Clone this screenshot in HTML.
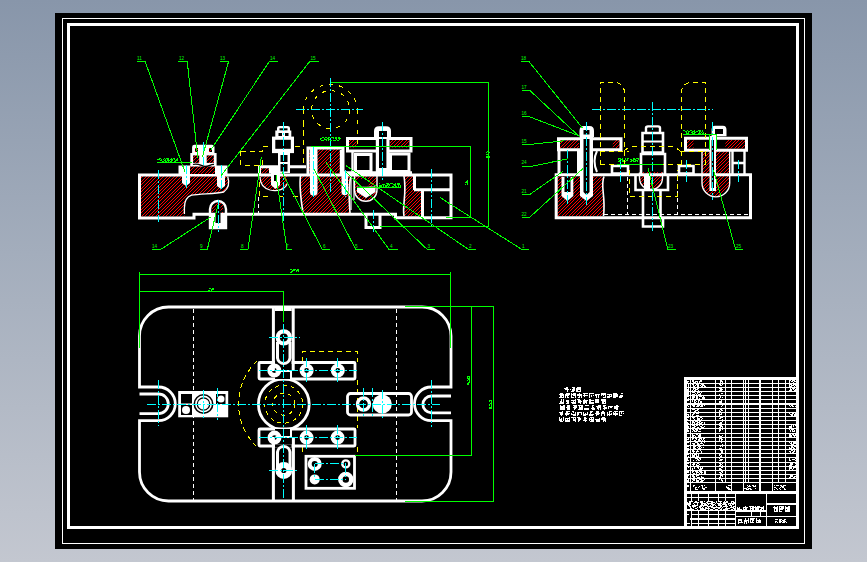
<!DOCTYPE html>
<html><head><meta charset="utf-8">
<style>
html,body{margin:0;padding:0;width:867px;height:562px;overflow:hidden;}
body{background:linear-gradient(to bottom,#8896aa 0%,#a3adbc 45%,#c3c7d0 100%);font-family:"Liberation Sans",sans-serif;}
svg{position:absolute;left:0;top:0;}
svg text{font-family:"Liberation Sans",sans-serif;}
</style></head><body>
<svg width="867" height="562" viewBox="0 0 867 562">
<g shape-rendering="crispEdges">
<rect x="55" y="13" width="757" height="536" fill="#000"/>
<rect x="62.5" y="18.5" width="742" height="525" fill="none" stroke="#fff" stroke-width="1"/>
<rect x="68.5" y="24.5" width="729" height="503" fill="none" stroke="#fff" stroke-width="3"/>
</g>

<!-- PLAN VIEW -->
<g id="plan" fill="none" stroke="#fff" stroke-width="2.8">
<path d="M168.5,307 H422 A29,29 0 0 1 451,336 V387 H431.3 A16.8,16.8 0 0 0 431.3,420.6 H451 V472 A29,29 0 0 1 422,501 H168.5 A29,29 0 0 1 139.5,472 V420.6 H158.5 A16.8,16.8 0 0 0 158.5,387 H139.5 V336 A29,29 0 0 1 168.5,307 Z"/>
<path d="M139.5,394 H158.5 A9.8,9.8 0 0 1 158.5,413.6 H139.5"/>
<path d="M451,396 H431.3 A8.4,8.4 0 0 0 431.3,412.8 H451"/>
</g>
<g shape-rendering="crispEdges" stroke="#fff" stroke-width="1" stroke-dasharray="4,3" fill="none">
<line x1="193.8" y1="309" x2="193.8" y2="500"/>
<line x1="396.6" y1="309" x2="396.6" y2="500"/>
</g>
<!-- yellow dashed -->
<g shape-rendering="crispEdges" stroke="#ffff00" stroke-width="1" stroke-dasharray="5,4" fill="none">
<path d="M302.3,362 V351.7 H357.4 V362"/>
<path d="M357.4,380 V428"/>
<path d="M302.3,447 V456 M357.4,447 V456"/>
<path d="M257,361 A59.5,59.5 0 0 0 257,447"/>
</g>
<!-- center circle -->
<g fill="none" stroke="#fff" stroke-width="2.8">
<circle cx="283.8" cy="404.2" r="25.4"/>
<rect x="259" y="362.5" width="96" height="16.5" rx="1"/>
<rect x="259" y="429" width="96" height="17" rx="1"/>
<rect x="347.5" y="393.5" width="64" height="21.5" rx="3"/>
<rect x="306" y="456.3" width="48.5" height="32"/>
</g>
<g shape-rendering="crispEdges" stroke="#ffff00" stroke-width="1" stroke-dasharray="4,4" fill="none">
<circle cx="283.8" cy="404.2" r="19"/>
<circle cx="283.8" cy="404.2" r="11"/>
</g>
<!-- vertical bars -->
<g fill="#000" stroke="#fff" stroke-width="3">
<path d="M275,377.5 H291.6 M275,430.5 H291.6 M275,362.5 H291.6 M275,446 H291.6" stroke="#000" stroke-width="3.2"/>
<path d="M273.4,308 V371 M293.2,308 V371 M275,309.5 H291.5"/>
<path d="M273.4,437 V501 M293.4,437 V501"/>
<path d="M277.5,342 V358 A6.3,6.3 0 0 0 290,358 V342" />
<path d="M277.5,470 V452 A6.3,6.3 0 0 1 290,452 V470" />
<path d="M275.5,371 H291 V379" stroke-width="2"/>
<path d="M275.5,437 H291 V429" stroke-width="2"/>
</g>
<!-- rings -->
<g fill="none" stroke="#fff" stroke-width="4.6">
<circle cx="283.8" cy="337.4" r="6.1" stroke-width="4.2"/>
<circle cx="283.8" cy="470.5" r="5.5" stroke-width="5.8"/>
<circle cx="306.6" cy="370.5" r="4.7"/>
<circle cx="337.8" cy="370.5" r="4.7"/>
<circle cx="274.3" cy="370.5" r="4.7"/>
<circle cx="306.6" cy="437.6" r="4.7"/>
<circle cx="337.6" cy="437.6" r="4.7"/>
<circle cx="274.5" cy="437.6" r="4.7"/>
<circle cx="363.5" cy="404" r="6" stroke-width="3.4"/>
<circle cx="314.7" cy="463.9" r="5" stroke-width="4"/>
<circle cx="345.8" cy="479.4" r="5.5" stroke-width="4.5"/>
<circle cx="345.8" cy="463.9" r="3.5" stroke-width="2.4"/>
</g>
<g fill="#fff">
<circle cx="382.2" cy="404" r="9.6"/>
<circle cx="314.7" cy="479.4" r="5"/>
</g>
<!-- left block -->
<rect x="178.2" y="391" width="50" height="26.3" fill="#fff"/>
<g fill="#000">
<circle cx="203.5" cy="404" r="10"/>
<rect x="181" y="394" width="11" height="9.5"/>
<rect x="181" y="405" width="11" height="10"/>
<rect x="216" y="394" width="9.5" height="10"/>
</g>
<circle cx="203.5" cy="404" r="7.6" fill="none" stroke="#fff" stroke-width="1.6"/>
<circle cx="203.5" cy="404" r="5.6" fill="#fff"/>
<circle cx="186" cy="410" r="4" fill="#fff"/>
<circle cx="221" cy="399" r="3.5" fill="#fff"/>
<!-- cyan center lines -->
<g shape-rendering="crispEdges" stroke="#00ffff" stroke-width="1" fill="none" stroke-dasharray="9,2,2,2">
<line x1="147" y1="404" x2="440" y2="404"/>
<line x1="158.5" y1="380" x2="158.5" y2="426"/>
<line x1="431.3" y1="380" x2="431.3" y2="427"/>
<line x1="283.8" y1="309" x2="283.8" y2="500"/>
<line x1="259" y1="370.5" x2="357" y2="370.5"/>
<line x1="259" y1="437.6" x2="357" y2="437.6"/>
<line x1="269" y1="337.4" x2="300" y2="337.4"/>
<line x1="269" y1="470.5" x2="299" y2="470.5"/>
<line x1="306.6" y1="358" x2="306.6" y2="383"/>
<line x1="337.8" y1="358" x2="337.8" y2="383"/>
<line x1="337.6" y1="425" x2="337.6" y2="450"/>
<line x1="306.6" y1="425" x2="306.6" y2="450"/>
<line x1="217.5" y1="388" x2="217.5" y2="420"/>
<line x1="203.5" y1="390" x2="203.5" y2="418"/>
<line x1="363.5" y1="388" x2="363.5" y2="417"/>
<line x1="372.5" y1="388" x2="372.5" y2="417"/>
<line x1="382.3" y1="390" x2="382.3" y2="418"/>
<line x1="314.7" y1="463.9" x2="345.8" y2="463.9"/>
<line x1="314.7" y1="479.4" x2="345.8" y2="479.4"/>
<line x1="314.7" y1="463.9" x2="314.7" y2="479.4"/>
<line x1="345.8" y1="463.9" x2="345.8" y2="479.4"/>
</g>
<!-- green dims -->
<g shape-rendering="crispEdges" stroke="#00ff00" stroke-width="1" fill="none">
<path d="M139.5,348 V272 M139.5,274.2 H450.5 M450.5,272 V348"/>
<path d="M139.5,291.7 H283 V322"/>
<path d="M405,306.4 H493.5 V501.4 H405"/>
<path d="M354.5,455.6 H471.2 V306.4"/>
</g>

<defs>
<pattern id="hatch" patternUnits="userSpaceOnUse" x="0" y="0" width="7" height="7">
<rect width="7" height="7" fill="#000"/>
<path fill="#ff0000" shape-rendering="crispEdges" d="M0,0h1v1h-1zM3,0h1v1h-1zM2,1h1v1h-1zM6,1h1v1h-1zM1,2h1v1h-1zM5,2h1v1h-1zM0,3h1v1h-1zM4,3h1v1h-1zM3,4h1v1h-1zM6,4h1v1h-1zM2,5h1v1h-1zM5,5h1v1h-1zM1,6h1v1h-1zM4,6h1v1h-1z"/>
</pattern>
</defs>
<!-- FRONT VIEW hatched regions -->
<g fill="url(#hatch)" stroke="none">
<path d="M140,176 H227.7 C229.5,182 229,188 223.7,192 C215,194 200,193.6 191.6,195.2 C186,197 184.4,203 184.4,208 V216.5 H140 Z"/>
<path d="M260,176 H287 V184 C284,190 276,192 268,189 C262,186 260,181 260,178 Z"/>
<rect x="261" y="167" width="8" height="6.5"/>
<path d="M300.5,176 H351 C348,186 349,200 350,213 H303 C301,200 299,186 300.5,176 Z"/>
<rect x="309" y="149" width="32" height="24.5"/>
<path d="M354.5,176 H377 V190 A11.2,11.2 0 0 1 354.5,190 Z"/>
<path d="M404,176 H413 V190 H421 V216 H404 C402,205 407,195 404,176 Z"/>
<rect x="349" y="140" width="7.5" height="7.5"/>
<rect x="390" y="140" width="19" height="7.5"/>



<rect x="212" y="203" width="11" height="10"/>
</g>
<g fill="none" stroke="#fff" stroke-width="3">
<!-- main body outline -->
<path d="M139.5,175 H451 V217.7 H395.5 V214.3 H194 V218 H139.5 Z"/>
<!-- right block -->
<path d="M414.5,175 V190 M414,189.8 H451 M422.5,189.8 V217.7"/>
<!-- small boss on top-left -->

<!-- upper clamp 12/13 -->

<!-- nut screw item 16 (see solids) -->
<path d="M259.5,175 V166.8 H306"/>
<!-- tall block -->
<path d="M308,175 V148 H343 V175"/>
<!-- top clamp plate -->
<path d="M347.5,151 V138.5 H411 V151 Z"/>
<path d="M355.5,154.5 H371 V171.5 H355.5 Z"/>
<path d="M390.5,154 H409 V171.5 H390.5 Z"/>
<path d="M341,150 V175 M352.5,150 V175" stroke-width="2.4"/>
<path d="M340,172.8 H412"/>
<!-- small rect below body -->
<path d="M366,214.5 V227.5 H380 V214.5"/>
</g>
<g fill="none" stroke="#fff" stroke-width="2.4">
<!-- break lines -->
<path d="M227.7,176.5 C229.5,182 229,188 223.7,192 C215,194 200,193.6 191.6,195.2 C186,197 184.4,203 184.4,208 V214" stroke-width="1.3"/>
<path d="M260,177 C260,183 263,188 270,190 C278,192 285,189 287,184" stroke-width="1.2"/>
<path d="M300.5,176 C299,186 301,200 303,213" stroke-width="1.6"/>
<path d="M351,176 C348,186 349,200 350,213" stroke-width="1.6"/>
<path d="M404,176 C407,195 402,205 404,216" stroke-width="1.6"/>
<path d="M354.5,176 V190 A11.2,11.2 0 0 0 377,190 V176" stroke-width="1.4"/>
<path d="M186,200 V208 M195,200 V208" stroke-width="0"/>
<!-- bottom pin -->
<path d="M210,228 V209 A8,8 0 0 1 226,209 V228 Z" stroke-width="2.4"/>
</g>
<!-- white solid items: screws, dowels -->
<g fill="#fff">
<path d="M182,169 H190 V183 L186,186 L182,183 Z"/>
<path d="M217,169 H225 V186 L221,189 L217,186 Z"/>
<path d="M310,148 H317.5 V192 A3.75,3.75 0 0 1 310,192 Z"/>
<path d="M341.5,176 H348 V192 A3.25,3.25 0 0 1 341.5,192 Z"/>

<path d="M271,173 H280 V185 L275.5,189 L271,185 Z"/>
<rect x="274" y="175" width="3" height="6" fill="#000"/>
<rect x="269" y="167" width="16" height="6.5"/>
<rect x="211" y="213" width="14" height="14"/>
<rect x="215.5" y="206" width="5" height="17" fill="#000"/>
<path d="M374,138 V131 Q374,126.3 379,126.3 H386 Q391,126.3 391,131 V138 Z"/>
<rect x="379" y="131" width="8" height="6" fill="#000"/>
<rect x="375.8" y="137" width="13.7" height="36"/>
<rect x="379" y="139" width="7.4" height="29" fill="#000"/>
<path d="M277,131 V128 Q277,126 279.5,126 H287.5 Q290,126 290,128 V131 Z"/>
<rect x="275.3" y="130.5" width="16" height="6.5"/>
<rect x="272" y="136.6" width="22" height="16.5"/>
<rect x="278" y="153" width="12" height="20"/>
<g fill="#000"><rect x="279.5" y="128.3" width="8" height="2"/><rect x="278.5" y="133" width="3.5" height="3"/><rect x="285" y="133" width="3.5" height="3"/>
<rect x="275.3" y="139.8" width="15.5" height="9"/><rect x="280.5" y="155" width="7" height="7"/><rect x="280.5" y="164" width="7" height="7.5"/></g>
</g>
<path d="M357,186.5 H375.5 V192 L366,198 L357,192 Z" fill="#fff"/>
<rect x="357.7" y="179" width="11" height="7.5" fill="#000"/>
<path d="M351,178 V210 M354,178 V200" stroke="#fff" stroke-width="1.2" fill="none"/>
<!-- boss + clamp 12/13 -->
<g fill="#fff">
<rect x="178.5" y="165.5" width="49" height="10"/>
<path d="M190.3,166 V153 H192.1 V147 Q192.1,144.8 194.5,144.8 H212 Q214.5,144.8 214.5,147 V153 H216.6 V166 Z"/>
</g>
<g fill="url(#hatch)">
<rect x="190" y="166.5" width="25" height="7.5"/>
<rect x="193.1" y="155.4" width="6.1" height="7.5"/>
<rect x="206.7" y="155.4" width="7.1" height="7.5"/>
<rect x="195" y="148" width="3" height="4"/>
<rect x="209" y="148" width="3" height="4"/>
</g>
<path d="M193,164.5 C198,162.5 202,166.5 205,166.5 C209,166.5 211,164 214,164.5" stroke="#000" stroke-width="1.3" fill="none"/>
<rect x="182" y="169" width="8" height="7" fill="#fff"/>

<!-- front view: details -->

<!-- yellow dashed (front) -->
<g shape-rendering="crispEdges" stroke="#ffff00" stroke-width="1" stroke-dasharray="5,4" fill="none">
<path d="M240.5,151 V165 H262 V158"/>
<path d="M240.5,151 H262 V146 H271.5 M294.5,146 H303.7"/>
<path d="M303.7,122 V165"/>
<path d="M259.5,182 V196.5 H269 M279,196.5 H283 M293,196.5 H301"/>
<path d="M258.5,197 V213" stroke="#fff" stroke-dasharray="4,3"/>
<path d="M303,110 V145 M357.5,110 V145 M303,110 A27.3,27.3 0 0 1 357.5,110" stroke-dasharray="4,6"/>
<circle cx="330.6" cy="109.6" r="19" stroke-dasharray="4,6"/>
</g>
<!-- cyan center lines (front) -->
<g shape-rendering="crispEdges" stroke="#00ffff" stroke-width="1" fill="none" stroke-dasharray="9,2,2,2">
<line x1="158.5" y1="170" x2="158.5" y2="222"/>
<line x1="186" y1="165" x2="186" y2="188"/>
<line x1="221" y1="165" x2="221" y2="190"/>
<line x1="203.5" y1="142" x2="203.5" y2="165"/>
<line x1="218" y1="200" x2="218" y2="232"/>
<line x1="283" y1="122" x2="283" y2="222"/>
<line x1="313.8" y1="146" x2="313.8" y2="197"/>
<line x1="330.6" y1="77.8" x2="330.6" y2="192"/>
<line x1="296" y1="109.6" x2="363" y2="109.6"/>
<line x1="345" y1="170" x2="345" y2="197"/>
<line x1="382.5" y1="122" x2="382.5" y2="182"/>
<line x1="373" y1="210" x2="373" y2="232"/>
<line x1="431.5" y1="169" x2="431.5" y2="228"/>
</g>
<!-- green leaders & dims (front) -->
<g shape-rendering="crispEdges" stroke="#00ff00" stroke-width="1" fill="none">
<path d="M136.9,61.1 H145 L185,172"/>
<path d="M178.4,61.1 H187.2 L197.8,158"/>
<path d="M219.5,61.1 H228.7 L202.4,157"/>
<path d="M277.6,61.1 H269.6 L210.8,150"/>
<path d="M319.2,61.1 H310 L220.8,176"/>
<path d="M151.5,249.1 H161.2 L211.5,216.6"/>
<path d="M199.5,249.1 H207.4 L218,205"/>
<path d="M240.3,249.1 H248 L261.4,156.7"/>
<path d="M292.2,249.1 H286.9 L276,175"/>
<path d="M329.6,249.1 H322.2 L282,172.4"/>
<path d="M362.7,249.1 H355.5 L314.3,169.4"/>
<path d="M397.8,249.1 H388.8 L326,162.5"/>
<path d="M434.6,249.1 H426.9 L346,172"/>
<path d="M475.8,249.1 H468 L345.7,165.5"/>
<path d="M529,249.1 H521.3 L443.8,200 L440,197"/>
<path d="M157,162 H192"/>
<path d="M311,146.7 H470 V217.5 H446"/>
<path d="M331,82.5 H488.5 V226 H380"/>
<path d="M357,187.6 H401"/>
</g>
<g fill="#00ff00" font-family="Liberation Sans" font-size="4.6">
<text x="137" y="60">11</text><text x="179" y="60">12</text><text x="220" y="60">13</text><text x="270" y="60">14</text><text x="310.5" y="60">15</text>
<text x="152" y="248">14</text><text x="200" y="248">9</text><text x="241" y="248">8</text><text x="286" y="248">7</text><text x="323" y="248">6</text>
<text x="355" y="248">5</text><text x="390" y="248">4</text><text x="427.5" y="248">3</text><text x="469" y="248">2</text><text x="522" y="248">1</text>
</g>

<!-- SIDE VIEW -->
<g fill="url(#hatch)">
<path d="M557.5,176.5 H604 C600,186 606,196 603.5,216 H557.5 Z"/>
<rect x="559.6" y="140" width="19.4" height="8"/>
<rect x="612.8" y="140" width="7.1" height="8"/>
<rect x="686" y="140" width="7.5" height="8.5"/>
<rect x="725.4" y="140" width="20.3" height="8.5"/>
<path d="M702,150 H729.7 V183 A13.85,13.85 0 0 1 702,183 Z"/>
<path d="M639.5,172 H662.5 V178 A11.5,11.5 0 0 1 639.5,178 Z"/>
</g>
<g fill="none" stroke="#fff" stroke-width="3">
<path d="M556.2,174.7 H750.5 V217.7 H556.2 Z"/>
<path d="M558.5,138.8 H621 V149.8 H558.5 Z"/>
<path d="M685.5,138.3 H746.5 V150.3 H685.5 Z"/>
<path d="M559,151 V175 M578.5,151 V175" stroke-width="3"/>
<path d="M612,166 H628 V173.6 H612 Z" stroke-width="2.6"/>
<path d="M679,166 H693.5 V173.6 H679 Z" stroke-width="2.6"/>
<path d="M732.5,151 V175 M744.5,151 V175 M732.5,163 H744.5" stroke-width="2.4"/>
<!-- center column -->
<path d="M646,132 V128 Q646,126.4 648,126.4 H658 Q660,126.4 660,128 V132" stroke-width="2.4"/>
<path d="M642.5,152.5 V133 H663 V152.5 Z" stroke-width="2.6"/>
<path d="M642.5,141.5 H663" stroke-width="2"/>
<path d="M641,174.5 V154 H665 V174.5" stroke-width="2.6"/>
<path d="M635.5,174.5 V190 H668 V174.5" stroke-width="2.6"/>
<path d="M643,190 V217 M660.5,190 V217" stroke-width="2.6"/>
<path d="M643,217 V226.5 H663 V217" stroke-width="2.6"/>
<path d="M639.5,172.5 V178 A11.5,11.5 0 0 0 662.5,178 V172.5" stroke-width="1.4"/>
<path d="M702,150 V183 A13.85,13.85 0 0 0 729.7,183 V150" stroke-width="1.4"/>
<path d="M604,176.5 C600,186 606,196 603.5,216" stroke-width="1.6"/>
<path d="M597,151 Q592,161 597,172" stroke-width="2"/>
</g>
<g fill="#fff">
<path d="M561.5,177 H573.3 V196 L567.4,201 L561.5,196 Z"/>
<path d="M580,128 H593 V196 L586.5,201 L580,196 Z"/>
<path d="M579.5,137 V131 Q579.5,126 584,126 H589.5 Q594,126 594,131 V137 Z"/>
<rect x="709.5" y="136" width="6.5" height="55"/>
<path d="M711.6,136.3 V130 Q711.6,125.7 715,125.7 H723 Q726.5,125.7 726.5,130 V136.3 Z"/>
<rect x="644" y="174" width="6" height="16"/>
</g>
<g fill="#000">
<rect x="583.5" y="130" width="6" height="4.5"/>
<rect x="583.5" y="139" width="6" height="26"/>
<rect x="562.5" y="153" width="12" height="20"/>
<rect x="564.5" y="177" width="6" height="15"/>
<path d="M583.5,165 V192 L586.5,195 L589.5,192 V165 Z"/>
<rect x="711.5" y="140" width="2.5" height="48"/>
<rect x="715" y="129" width="8" height="5"/>
</g>
<!-- white dashed -->
<g shape-rendering="crispEdges" stroke="#fff" stroke-width="1" stroke-dasharray="4,3" fill="none">
<path d="M604,214.4 H748"/>
<path d="M627,177 V214"/>
<path d="M677.5,177 V214"/>
</g>
<!-- yellow dashed -->
<g shape-rendering="crispEdges" stroke="#ffff00" stroke-width="1" stroke-dasharray="5,4" fill="none">
<path d="M600.5,165 V82.4 H614.5 A10,10 0 0 1 624.5,92.4 V165"/>
<path d="M705.6,165 V82.4 H691.3 A10,10 0 0 0 681.3,92.4 V165"/>
<path d="M624.4,150.4 L630.8,146.4 H673.3 L679.6,150.4"/>
<path d="M600.4,164 H628.4 M658.8,164 H705 M600.4,151.3 H629 M680,151.3 H705"/>
<path d="M629.2,170 V196 H677.3 V170"/>
</g>
<!-- cyan -->
<g shape-rendering="crispEdges" stroke="#00ffff" stroke-width="1" fill="none" stroke-dasharray="9,2,2,2">
<line x1="591.6" y1="109.3" x2="713" y2="109.3"/>
<line x1="652.4" y1="101.8" x2="652.4" y2="232"/>
<line x1="586.4" y1="122" x2="586.4" y2="205"/>
<line x1="567.4" y1="150" x2="567.4" y2="205"/>
<line x1="620" y1="160" x2="620" y2="182"/>
<line x1="686" y1="160" x2="686" y2="182"/>
<line x1="712.8" y1="122" x2="712.8" y2="200"/>
<line x1="738" y1="160" x2="738" y2="182"/>
</g>
<!-- green leaders -->
<g shape-rendering="crispEdges" stroke="#00ff00" stroke-width="1" fill="none">
<path d="M521.2,61.6 H529 L582.7,128.3"/>
<path d="M522,90.6 H530 L580,137.2"/>
<path d="M521.5,116.8 H529.5 L578.2,135.5"/>
<path d="M521.5,144.4 H530 L564,140.8"/>
<path d="M521.5,166.5 H531 L568.3,158.7"/>
<path d="M521.5,194.3 H530 L562.6,171.6"/>
<path d="M521.5,217 H530 L582.8,168.7"/>
<path d="M675.5,249.1 H667.7 L648,168"/>
<path d="M743,249.1 H735.5 L713.5,170"/>
<path d="M683,134.5 H716.8 M709.3,134.5 V150 M716.8,134.5 V150"/>
<path d="M617,164.8 H663" />
</g>
<g fill="#00ff00" font-family="Liberation Sans" font-size="4.6">
<text x="521" y="60">18</text><text x="521.5" y="89">17</text><text x="521.5" y="115">16</text><text x="521.5" y="143">15</text>
<text x="521.5" y="164">24</text><text x="521.5" y="193">21</text><text x="521.5" y="215.5">22</text>
<text x="668" y="248">23</text><text x="736" y="248">25</text>
</g>

<path fill="#00ff00" shape-rendering="crispEdges" d="M159,158h2v1h-2zM164,158h1v1h-1zM166,158h3v1h-3zM171,158h1v1h-1zM173,158h2v1h-2zM177,158h1v1h-1zM157,159h3v1h-3zM161,159h1v1h-1zM163,159h1v1h-1zM165,159h1v1h-1zM167,159h2v1h-2zM170,159h3v1h-3zM174,159h1v1h-1zM176,159h2v1h-2zM160,160h2v1h-2zM164,160h2v1h-2zM167,160h3v1h-3zM171,160h2v1h-2zM175,160h3v1h-3zM162,161h2v1h-2zM165,161h2v1h-2zM168,161h1v1h-1zM170,161h2v1h-2zM174,161h2v1h-2zM322,137h2v1h-2zM325,137h2v1h-2zM328,137h2v1h-2zM331,137h3v1h-3zM335,137h2v1h-2zM338,137h2v1h-2zM320,138h2v1h-2zM324,138h1v1h-1zM327,138h2v1h-2zM333,138h1v1h-1zM335,138h2v1h-2zM338,138h3v1h-3zM320,139h1v1h-1zM324,139h3v1h-3zM328,139h2v1h-2zM336,139h1v1h-1zM339,139h1v1h-1zM321,140h3v1h-3zM326,140h1v1h-1zM328,140h1v1h-1zM330,140h2v1h-2zM333,140h3v1h-3zM337,140h2v1h-2zM379,183h1v1h-1zM386,183h3v1h-3zM390,183h3v1h-3zM395,183h1v1h-1zM397,183h3v1h-3zM382,184h3v1h-3zM387,184h3v1h-3zM393,184h3v1h-3zM397,184h3v1h-3zM379,185h3v1h-3zM383,185h1v1h-1zM385,185h3v1h-3zM389,185h1v1h-1zM394,185h2v1h-2zM398,185h1v1h-1zM400,185h1v1h-1zM379,186h3v1h-3zM383,186h1v1h-1zM385,186h2v1h-2zM388,186h1v1h-1zM392,186h2v1h-2zM395,186h2v1h-2zM398,186h1v1h-1zM400,186h1v1h-1zM683,130h2v1h-2zM687,130h1v1h-1zM690,130h2v1h-2zM694,130h1v1h-1zM698,130h3v1h-3zM702,130h1v1h-1zM685,131h2v1h-2zM688,131h2v1h-2zM692,131h3v1h-3zM696,131h2v1h-2zM699,131h2v1h-2zM702,131h1v1h-1zM686,132h1v1h-1zM688,132h1v1h-1zM691,132h2v1h-2zM694,132h2v1h-2zM699,132h1v1h-1zM701,132h1v1h-1zM703,132h1v1h-1zM686,133h3v1h-3zM692,133h3v1h-3zM698,133h3v1h-3zM702,133h2v1h-2zM618,158h3v1h-3zM622,158h1v1h-1zM625,158h1v1h-1zM627,158h2v1h-2zM633,158h2v1h-2zM636,158h3v1h-3zM618,159h1v1h-1zM620,159h3v1h-3zM625,159h1v1h-1zM627,159h1v1h-1zM630,159h2v1h-2zM633,159h3v1h-3zM638,159h1v1h-1zM619,160h1v1h-1zM622,160h2v1h-2zM626,160h2v1h-2zM631,160h3v1h-3zM635,160h3v1h-3zM618,161h3v1h-3zM622,161h2v1h-2zM625,161h1v1h-1zM630,161h2v1h-2zM633,161h3v1h-3zM637,161h1v1h-1zM290,269h2v1h-2zM293,269h3v1h-3zM297,269h2v1h-2zM292,270h3v1h-3zM296,270h3v1h-3zM291,271h2v1h-2zM296,271h1v1h-1zM298,271h1v1h-1zM290,272h2v1h-2zM209,288h2v1h-2zM212,288h2v1h-2zM211,289h3v1h-3zM208,290h2v1h-2zM211,290h1v1h-1zM467,376h3v1h-3zM467,377h1v1h-1zM469,377h1v1h-1zM467,378h3v1h-3zM468,379h2v1h-2zM467,380h1v1h-1zM469,380h1v1h-1zM469,381h1v1h-1zM468,382h2v1h-2zM467,383h2v1h-2zM467,384h2v1h-2zM489,400h3v1h-3zM489,401h1v1h-1zM491,401h1v1h-1zM491,402h1v1h-1zM490,403h2v1h-2zM489,404h1v1h-1zM491,404h1v1h-1zM489,405h1v1h-1zM491,405h1v1h-1zM491,406h1v1h-1zM489,407h3v1h-3zM489,408h3v1h-3zM467,180h1v1h-1zM466,181h2v1h-2zM465,182h3v1h-3zM467,183h1v1h-1zM465,184h1v1h-1zM467,184h1v1h-1zM487,151h2v1h-2zM486,152h1v1h-1zM488,152h2v1h-2zM488,153h1v1h-1zM486,154h3v1h-3zM488,155h1v1h-1zM486,156h2v1h-2zM489,156h1v1h-1zM486,157h2v1h-2zM489,157h1v1h-1z"/>

<!-- NOTES -->
<path fill="#fff" shape-rendering="crispEdges" d="M566,387h2v1h-2zM572,387h3v1h-3zM577,387h4v1h-4zM564,388h4v1h-4zM573,388h2v1h-2zM576,388h5v1h-5zM565,389h4v1h-4zM570,389h1v1h-1zM572,389h3v1h-3zM576,389h5v1h-5zM567,390h1v1h-1zM572,390h3v1h-3zM576,390h2v1h-2zM580,390h1v1h-1zM567,391h1v1h-1zM571,391h3v1h-3zM576,391h5v1h-5zM560,393h3v1h-3zM566,393h4v1h-4zM571,393h1v1h-1zM573,393h3v1h-3zM579,393h1v1h-1zM583,393h5v1h-5zM589,393h5v1h-5zM601,393h5v1h-5zM613,393h4v1h-4zM621,393h2v1h-2zM559,394h5v1h-5zM565,394h5v1h-5zM571,394h5v1h-5zM577,394h5v1h-5zM584,394h1v1h-1zM589,394h1v1h-1zM595,394h5v1h-5zM601,394h5v1h-5zM607,394h5v1h-5zM613,394h5v1h-5zM560,395h4v1h-4zM565,395h4v1h-4zM571,395h1v1h-1zM573,395h3v1h-3zM577,395h5v1h-5zM583,395h5v1h-5zM589,395h1v1h-1zM591,395h1v1h-1zM593,395h1v1h-1zM595,395h2v1h-2zM598,395h1v1h-1zM601,395h1v1h-1zM603,395h1v1h-1zM605,395h1v1h-1zM609,395h1v1h-1zM611,395h1v1h-1zM613,395h5v1h-5zM620,395h3v1h-3zM560,396h2v1h-2zM563,396h1v1h-1zM565,396h1v1h-1zM567,396h1v1h-1zM571,396h1v1h-1zM575,396h1v1h-1zM579,396h1v1h-1zM581,396h1v1h-1zM584,396h1v1h-1zM589,396h1v1h-1zM591,396h1v1h-1zM596,396h1v1h-1zM598,396h1v1h-1zM605,396h1v1h-1zM607,396h5v1h-5zM613,396h5v1h-5zM619,396h4v1h-4zM559,397h5v1h-5zM565,397h1v1h-1zM567,397h2v1h-2zM571,397h3v1h-3zM575,397h1v1h-1zM578,397h2v1h-2zM581,397h1v1h-1zM589,397h1v1h-1zM596,397h1v1h-1zM598,397h1v1h-1zM603,397h3v1h-3zM607,397h3v1h-3zM613,397h3v1h-3zM619,397h3v1h-3zM561,399h1v1h-1zM563,399h1v1h-1zM575,399h1v1h-1zM577,399h3v1h-3zM584,399h1v1h-1zM589,399h2v1h-2zM595,399h4v1h-4zM601,399h5v1h-5zM561,400h1v1h-1zM563,400h1v1h-1zM566,400h3v1h-3zM571,400h5v1h-5zM578,400h3v1h-3zM583,400h5v1h-5zM589,400h5v1h-5zM595,400h4v1h-4zM601,400h5v1h-5zM560,401h2v1h-2zM563,401h1v1h-1zM566,401h3v1h-3zM573,401h1v1h-1zM575,401h1v1h-1zM578,401h4v1h-4zM583,401h4v1h-4zM589,401h2v1h-2zM595,401h4v1h-4zM602,401h4v1h-4zM560,402h4v1h-4zM567,402h2v1h-2zM571,402h5v1h-5zM578,402h3v1h-3zM583,402h4v1h-4zM589,402h5v1h-5zM595,402h4v1h-4zM602,402h2v1h-2zM605,402h1v1h-1zM559,403h5v1h-5zM566,403h3v1h-3zM572,403h4v1h-4zM580,403h1v1h-1zM583,403h2v1h-2zM586,403h1v1h-1zM589,403h5v1h-5zM602,403h4v1h-4zM560,405h1v1h-1zM563,405h2v1h-2zM567,405h3v1h-3zM573,405h4v1h-4zM578,405h5v1h-5zM585,405h4v1h-4zM592,405h2v1h-2zM598,405h3v1h-3zM603,405h3v1h-3zM616,405h2v1h-2zM560,406h5v1h-5zM567,406h3v1h-3zM574,406h3v1h-3zM579,406h1v1h-1zM581,406h2v1h-2zM592,406h1v1h-1zM596,406h5v1h-5zM603,406h2v1h-2zM608,406h5v1h-5zM614,406h5v1h-5zM560,407h5v1h-5zM566,407h4v1h-4zM573,407h4v1h-4zM579,407h4v1h-4zM592,407h2v1h-2zM597,407h4v1h-4zM604,407h3v1h-3zM608,407h1v1h-1zM610,407h2v1h-2zM614,407h4v1h-4zM560,408h5v1h-5zM567,408h3v1h-3zM574,408h2v1h-2zM579,408h4v1h-4zM584,408h5v1h-5zM591,408h4v1h-4zM597,408h2v1h-2zM600,408h1v1h-1zM603,408h4v1h-4zM608,408h1v1h-1zM614,408h4v1h-4zM560,409h5v1h-5zM567,409h3v1h-3zM574,409h1v1h-1zM578,409h5v1h-5zM584,409h5v1h-5zM592,409h3v1h-3zM598,409h1v1h-1zM600,409h1v1h-1zM604,409h1v1h-1zM616,409h2v1h-2zM562,411h1v1h-1zM566,411h4v1h-4zM572,411h2v1h-2zM590,411h3v1h-3zM596,411h3v1h-3zM602,411h2v1h-2zM609,411h3v1h-3zM614,411h4v1h-4zM619,411h5v1h-5zM559,412h4v1h-4zM566,412h2v1h-2zM573,412h1v1h-1zM575,412h1v1h-1zM577,412h5v1h-5zM583,412h1v1h-1zM587,412h1v1h-1zM590,412h2v1h-2zM596,412h3v1h-3zM601,412h4v1h-4zM607,412h1v1h-1zM609,412h1v1h-1zM613,412h1v1h-1zM615,412h1v1h-1zM619,412h1v1h-1zM621,412h1v1h-1zM560,413h3v1h-3zM565,413h5v1h-5zM571,413h1v1h-1zM575,413h1v1h-1zM577,413h2v1h-2zM581,413h1v1h-1zM583,413h1v1h-1zM585,413h1v1h-1zM587,413h1v1h-1zM590,413h1v1h-1zM595,413h5v1h-5zM601,413h4v1h-4zM607,413h1v1h-1zM609,413h1v1h-1zM611,413h1v1h-1zM613,413h5v1h-5zM619,413h1v1h-1zM621,413h1v1h-1zM623,413h1v1h-1zM560,414h3v1h-3zM565,414h4v1h-4zM571,414h5v1h-5zM577,414h2v1h-2zM581,414h1v1h-1zM583,414h5v1h-5zM589,414h5v1h-5zM596,414h3v1h-3zM601,414h1v1h-1zM604,414h1v1h-1zM607,414h5v1h-5zM613,414h5v1h-5zM619,414h1v1h-1zM561,415h1v1h-1zM566,415h1v1h-1zM573,415h3v1h-3zM577,415h1v1h-1zM583,415h3v1h-3zM589,415h4v1h-4zM596,415h1v1h-1zM601,415h1v1h-1zM604,415h1v1h-1zM607,415h1v1h-1zM609,415h1v1h-1zM615,415h1v1h-1zM619,415h3v1h-3zM559,417h1v1h-1zM563,417h1v1h-1zM569,417h1v1h-1zM571,417h5v1h-5zM577,417h3v1h-3zM584,417h2v1h-2zM590,417h4v1h-4zM602,417h3v1h-3zM559,418h1v1h-1zM561,418h1v1h-1zM563,418h1v1h-1zM565,418h5v1h-5zM573,418h1v1h-1zM575,418h1v1h-1zM578,418h3v1h-3zM584,418h3v1h-3zM589,418h1v1h-1zM591,418h1v1h-1zM593,418h1v1h-1zM599,418h1v1h-1zM601,418h5v1h-5zM559,419h3v1h-3zM563,419h1v1h-1zM565,419h1v1h-1zM567,419h1v1h-1zM569,419h1v1h-1zM573,419h3v1h-3zM578,419h3v1h-3zM584,419h2v1h-2zM589,419h5v1h-5zM595,419h5v1h-5zM601,419h5v1h-5zM559,420h3v1h-3zM563,420h1v1h-1zM565,420h5v1h-5zM573,420h3v1h-3zM578,420h2v1h-2zM583,420h4v1h-4zM589,420h1v1h-1zM591,420h3v1h-3zM596,420h4v1h-4zM603,420h3v1h-3zM560,421h3v1h-3zM565,421h5v1h-5zM575,421h1v1h-1zM578,421h1v1h-1zM585,421h1v1h-1zM590,421h4v1h-4zM596,421h4v1h-4zM603,421h1v1h-1zM605,421h1v1h-1z"/>

<!-- TITLE BLOCK -->
<g shape-rendering="crispEdges">
<rect x="684" y="377" width="113" height="150" fill="#fff"/>
<path fill="#000" d="M686.5,379.60h3.1v3.1h-3.1z M691.0,379.60h24.0v3.1h-24.0z M716.0,379.60h9.0v3.1h-9.0z M726.0,379.60h5.0v3.1h-5.0z M732.0,379.60h11.0v3.1h-11.0z M744.2,379.60h1.0v3.1h-1.0z M746.2,379.60h1.8v3.1h-1.8z M749.0,379.60h9.7v3.1h-9.7z M760.8,379.60h11.4v3.1h-11.4z M773.2,379.60h4.8v3.1h-4.8z M779.1,379.60h6.2v3.1h-6.2z M786.4,379.60h3.1v3.1h-3.1z M789.5,379.60h6.5v3.1h-6.5z M686.5,383.75h3.1v3.1h-3.1z M691.0,383.75h24.0v3.1h-24.0z M716.0,383.75h9.0v3.1h-9.0z M726.0,383.75h5.0v3.1h-5.0z M732.0,383.75h11.0v3.1h-11.0z M744.2,383.75h1.0v3.1h-1.0z M746.2,383.75h1.8v3.1h-1.8z M749.0,383.75h9.7v3.1h-9.7z M760.8,383.75h11.4v3.1h-11.4z M773.2,383.75h4.8v3.1h-4.8z M779.1,383.75h6.2v3.1h-6.2z M786.4,383.75h3.1v3.1h-3.1z M789.5,383.75h6.5v3.1h-6.5z M686.5,387.90h3.1v3.1h-3.1z M691.0,387.90h24.0v3.1h-24.0z M716.0,387.90h9.0v3.1h-9.0z M726.0,387.90h5.0v3.1h-5.0z M732.0,387.90h11.0v3.1h-11.0z M744.2,387.90h1.0v3.1h-1.0z M746.2,387.90h1.8v3.1h-1.8z M749.0,387.90h9.7v3.1h-9.7z M760.8,387.90h11.4v3.1h-11.4z M773.2,387.90h4.8v3.1h-4.8z M779.1,387.90h6.2v3.1h-6.2z M786.4,387.90h3.1v3.1h-3.1z M789.5,387.90h6.5v3.1h-6.5z M686.5,392.05h3.1v3.1h-3.1z M691.0,392.05h24.0v3.1h-24.0z M716.0,392.05h9.0v3.1h-9.0z M726.0,392.05h5.0v3.1h-5.0z M732.0,392.05h11.0v3.1h-11.0z M744.2,392.05h1.0v3.1h-1.0z M746.2,392.05h1.8v3.1h-1.8z M749.0,392.05h9.7v3.1h-9.7z M760.8,392.05h11.4v3.1h-11.4z M773.2,392.05h4.8v3.1h-4.8z M779.1,392.05h6.2v3.1h-6.2z M786.4,392.05h3.1v3.1h-3.1z M789.5,392.05h6.5v3.1h-6.5z M686.5,396.20h3.1v3.1h-3.1z M691.0,396.20h24.0v3.1h-24.0z M716.0,396.20h9.0v3.1h-9.0z M726.0,396.20h5.0v3.1h-5.0z M732.0,396.20h11.0v3.1h-11.0z M744.2,396.20h1.0v3.1h-1.0z M746.2,396.20h1.8v3.1h-1.8z M749.0,396.20h9.7v3.1h-9.7z M760.8,396.20h11.4v3.1h-11.4z M773.2,396.20h4.8v3.1h-4.8z M779.1,396.20h6.2v3.1h-6.2z M786.4,396.20h3.1v3.1h-3.1z M789.5,396.20h6.5v3.1h-6.5z M686.5,400.35h3.1v3.1h-3.1z M691.0,400.35h24.0v3.1h-24.0z M716.0,400.35h9.0v3.1h-9.0z M726.0,400.35h5.0v3.1h-5.0z M732.0,400.35h11.0v3.1h-11.0z M744.2,400.35h1.0v3.1h-1.0z M746.2,400.35h1.8v3.1h-1.8z M749.0,400.35h9.7v3.1h-9.7z M760.8,400.35h11.4v3.1h-11.4z M773.2,400.35h4.8v3.1h-4.8z M779.1,400.35h6.2v3.1h-6.2z M786.4,400.35h3.1v3.1h-3.1z M789.5,400.35h6.5v3.1h-6.5z M686.5,404.50h3.1v3.1h-3.1z M691.0,404.50h24.0v3.1h-24.0z M716.0,404.50h9.0v3.1h-9.0z M726.0,404.50h5.0v3.1h-5.0z M732.0,404.50h11.0v3.1h-11.0z M744.2,404.50h1.0v3.1h-1.0z M746.2,404.50h1.8v3.1h-1.8z M749.0,404.50h9.7v3.1h-9.7z M760.8,404.50h11.4v3.1h-11.4z M773.2,404.50h4.8v3.1h-4.8z M779.1,404.50h6.2v3.1h-6.2z M786.4,404.50h3.1v3.1h-3.1z M789.5,404.50h6.5v3.1h-6.5z M686.5,408.65h3.1v3.1h-3.1z M691.0,408.65h24.0v3.1h-24.0z M716.0,408.65h9.0v3.1h-9.0z M726.0,408.65h5.0v3.1h-5.0z M732.0,408.65h11.0v3.1h-11.0z M744.2,408.65h1.0v3.1h-1.0z M746.2,408.65h1.8v3.1h-1.8z M749.0,408.65h9.7v3.1h-9.7z M760.8,408.65h11.4v3.1h-11.4z M773.2,408.65h4.8v3.1h-4.8z M779.1,408.65h6.2v3.1h-6.2z M786.4,408.65h3.1v3.1h-3.1z M789.5,408.65h6.5v3.1h-6.5z M686.5,412.80h3.1v3.1h-3.1z M691.0,412.80h24.0v3.1h-24.0z M716.0,412.80h9.0v3.1h-9.0z M726.0,412.80h5.0v3.1h-5.0z M732.0,412.80h11.0v3.1h-11.0z M744.2,412.80h1.0v3.1h-1.0z M746.2,412.80h1.8v3.1h-1.8z M749.0,412.80h9.7v3.1h-9.7z M760.8,412.80h11.4v3.1h-11.4z M773.2,412.80h4.8v3.1h-4.8z M779.1,412.80h6.2v3.1h-6.2z M786.4,412.80h3.1v3.1h-3.1z M789.5,412.80h6.5v3.1h-6.5z M686.5,416.95h3.1v3.1h-3.1z M691.0,416.95h24.0v3.1h-24.0z M716.0,416.95h9.0v3.1h-9.0z M726.0,416.95h5.0v3.1h-5.0z M732.0,416.95h11.0v3.1h-11.0z M744.2,416.95h1.0v3.1h-1.0z M746.2,416.95h1.8v3.1h-1.8z M749.0,416.95h9.7v3.1h-9.7z M760.8,416.95h11.4v3.1h-11.4z M773.2,416.95h4.8v3.1h-4.8z M779.1,416.95h6.2v3.1h-6.2z M786.4,416.95h3.1v3.1h-3.1z M789.5,416.95h6.5v3.1h-6.5z M686.5,421.10h3.1v3.1h-3.1z M691.0,421.10h24.0v3.1h-24.0z M716.0,421.10h9.0v3.1h-9.0z M726.0,421.10h5.0v3.1h-5.0z M732.0,421.10h11.0v3.1h-11.0z M744.2,421.10h1.0v3.1h-1.0z M746.2,421.10h1.8v3.1h-1.8z M749.0,421.10h9.7v3.1h-9.7z M760.8,421.10h11.4v3.1h-11.4z M773.2,421.10h4.8v3.1h-4.8z M779.1,421.10h6.2v3.1h-6.2z M786.4,421.10h3.1v3.1h-3.1z M789.5,421.10h6.5v3.1h-6.5z M686.5,425.25h3.1v3.1h-3.1z M691.0,425.25h24.0v3.1h-24.0z M716.0,425.25h9.0v3.1h-9.0z M726.0,425.25h5.0v3.1h-5.0z M732.0,425.25h11.0v3.1h-11.0z M744.2,425.25h1.0v3.1h-1.0z M746.2,425.25h1.8v3.1h-1.8z M749.0,425.25h9.7v3.1h-9.7z M760.8,425.25h11.4v3.1h-11.4z M773.2,425.25h4.8v3.1h-4.8z M779.1,425.25h6.2v3.1h-6.2z M786.4,425.25h3.1v3.1h-3.1z M789.5,425.25h6.5v3.1h-6.5z M686.5,429.40h3.1v3.1h-3.1z M691.0,429.40h24.0v3.1h-24.0z M716.0,429.40h9.0v3.1h-9.0z M726.0,429.40h5.0v3.1h-5.0z M732.0,429.40h11.0v3.1h-11.0z M744.2,429.40h1.0v3.1h-1.0z M746.2,429.40h1.8v3.1h-1.8z M749.0,429.40h9.7v3.1h-9.7z M760.8,429.40h11.4v3.1h-11.4z M773.2,429.40h4.8v3.1h-4.8z M779.1,429.40h6.2v3.1h-6.2z M786.4,429.40h3.1v3.1h-3.1z M789.5,429.40h6.5v3.1h-6.5z M686.5,433.55h3.1v3.1h-3.1z M691.0,433.55h24.0v3.1h-24.0z M716.0,433.55h9.0v3.1h-9.0z M726.0,433.55h5.0v3.1h-5.0z M732.0,433.55h11.0v3.1h-11.0z M744.2,433.55h1.0v3.1h-1.0z M746.2,433.55h1.8v3.1h-1.8z M749.0,433.55h9.7v3.1h-9.7z M760.8,433.55h11.4v3.1h-11.4z M773.2,433.55h4.8v3.1h-4.8z M779.1,433.55h6.2v3.1h-6.2z M786.4,433.55h3.1v3.1h-3.1z M789.5,433.55h6.5v3.1h-6.5z M686.5,437.70h3.1v3.1h-3.1z M691.0,437.70h24.0v3.1h-24.0z M716.0,437.70h9.0v3.1h-9.0z M726.0,437.70h5.0v3.1h-5.0z M732.0,437.70h11.0v3.1h-11.0z M744.2,437.70h1.0v3.1h-1.0z M746.2,437.70h1.8v3.1h-1.8z M749.0,437.70h9.7v3.1h-9.7z M760.8,437.70h11.4v3.1h-11.4z M773.2,437.70h4.8v3.1h-4.8z M779.1,437.70h6.2v3.1h-6.2z M786.4,437.70h3.1v3.1h-3.1z M789.5,437.70h6.5v3.1h-6.5z M686.5,441.85h3.1v3.1h-3.1z M691.0,441.85h24.0v3.1h-24.0z M716.0,441.85h9.0v3.1h-9.0z M726.0,441.85h5.0v3.1h-5.0z M732.0,441.85h11.0v3.1h-11.0z M744.2,441.85h1.0v3.1h-1.0z M746.2,441.85h1.8v3.1h-1.8z M749.0,441.85h9.7v3.1h-9.7z M760.8,441.85h11.4v3.1h-11.4z M773.2,441.85h4.8v3.1h-4.8z M779.1,441.85h6.2v3.1h-6.2z M786.4,441.85h3.1v3.1h-3.1z M789.5,441.85h6.5v3.1h-6.5z M686.5,446.00h3.1v3.1h-3.1z M691.0,446.00h24.0v3.1h-24.0z M716.0,446.00h9.0v3.1h-9.0z M726.0,446.00h5.0v3.1h-5.0z M732.0,446.00h11.0v3.1h-11.0z M744.2,446.00h1.0v3.1h-1.0z M746.2,446.00h1.8v3.1h-1.8z M749.0,446.00h9.7v3.1h-9.7z M760.8,446.00h11.4v3.1h-11.4z M773.2,446.00h4.8v3.1h-4.8z M779.1,446.00h6.2v3.1h-6.2z M786.4,446.00h3.1v3.1h-3.1z M789.5,446.00h6.5v3.1h-6.5z M686.5,450.15h3.1v3.1h-3.1z M691.0,450.15h24.0v3.1h-24.0z M716.0,450.15h9.0v3.1h-9.0z M726.0,450.15h5.0v3.1h-5.0z M732.0,450.15h11.0v3.1h-11.0z M744.2,450.15h1.0v3.1h-1.0z M746.2,450.15h1.8v3.1h-1.8z M749.0,450.15h9.7v3.1h-9.7z M760.8,450.15h11.4v3.1h-11.4z M773.2,450.15h4.8v3.1h-4.8z M779.1,450.15h6.2v3.1h-6.2z M786.4,450.15h3.1v3.1h-3.1z M789.5,450.15h6.5v3.1h-6.5z M686.5,454.30h3.1v3.1h-3.1z M691.0,454.30h24.0v3.1h-24.0z M716.0,454.30h9.0v3.1h-9.0z M726.0,454.30h5.0v3.1h-5.0z M732.0,454.30h11.0v3.1h-11.0z M744.2,454.30h1.0v3.1h-1.0z M746.2,454.30h1.8v3.1h-1.8z M749.0,454.30h9.7v3.1h-9.7z M760.8,454.30h11.4v3.1h-11.4z M773.2,454.30h4.8v3.1h-4.8z M779.1,454.30h6.2v3.1h-6.2z M786.4,454.30h3.1v3.1h-3.1z M789.5,454.30h6.5v3.1h-6.5z M686.5,458.45h3.1v3.1h-3.1z M691.0,458.45h24.0v3.1h-24.0z M716.0,458.45h9.0v3.1h-9.0z M726.0,458.45h5.0v3.1h-5.0z M732.0,458.45h11.0v3.1h-11.0z M744.2,458.45h1.0v3.1h-1.0z M746.2,458.45h1.8v3.1h-1.8z M749.0,458.45h9.7v3.1h-9.7z M760.8,458.45h11.4v3.1h-11.4z M773.2,458.45h4.8v3.1h-4.8z M779.1,458.45h6.2v3.1h-6.2z M786.4,458.45h3.1v3.1h-3.1z M789.5,458.45h6.5v3.1h-6.5z M686.5,462.60h3.1v3.1h-3.1z M691.0,462.60h24.0v3.1h-24.0z M716.0,462.60h9.0v3.1h-9.0z M726.0,462.60h5.0v3.1h-5.0z M732.0,462.60h11.0v3.1h-11.0z M744.2,462.60h1.0v3.1h-1.0z M746.2,462.60h1.8v3.1h-1.8z M749.0,462.60h9.7v3.1h-9.7z M760.8,462.60h11.4v3.1h-11.4z M773.2,462.60h4.8v3.1h-4.8z M779.1,462.60h6.2v3.1h-6.2z M786.4,462.60h3.1v3.1h-3.1z M789.5,462.60h6.5v3.1h-6.5z M686.5,466.75h3.1v3.1h-3.1z M691.0,466.75h24.0v3.1h-24.0z M716.0,466.75h9.0v3.1h-9.0z M726.0,466.75h5.0v3.1h-5.0z M732.0,466.75h11.0v3.1h-11.0z M744.2,466.75h1.0v3.1h-1.0z M746.2,466.75h1.8v3.1h-1.8z M749.0,466.75h9.7v3.1h-9.7z M760.8,466.75h11.4v3.1h-11.4z M773.2,466.75h4.8v3.1h-4.8z M779.1,466.75h6.2v3.1h-6.2z M786.4,466.75h3.1v3.1h-3.1z M789.5,466.75h6.5v3.1h-6.5z M686.5,470.90h3.1v3.1h-3.1z M691.0,470.90h24.0v3.1h-24.0z M716.0,470.90h9.0v3.1h-9.0z M726.0,470.90h5.0v3.1h-5.0z M732.0,470.90h11.0v3.1h-11.0z M744.2,470.90h1.0v3.1h-1.0z M746.2,470.90h1.8v3.1h-1.8z M749.0,470.90h9.7v3.1h-9.7z M760.8,470.90h11.4v3.1h-11.4z M773.2,470.90h4.8v3.1h-4.8z M779.1,470.90h6.2v3.1h-6.2z M786.4,470.90h3.1v3.1h-3.1z M789.5,470.90h6.5v3.1h-6.5z M686.5,475.05h3.1v3.1h-3.1z M691.0,475.05h24.0v3.1h-24.0z M716.0,475.05h9.0v3.1h-9.0z M726.0,475.05h5.0v3.1h-5.0z M732.0,475.05h11.0v3.1h-11.0z M744.2,475.05h1.0v3.1h-1.0z M746.2,475.05h1.8v3.1h-1.8z M749.0,475.05h9.7v3.1h-9.7z M760.8,475.05h11.4v3.1h-11.4z M773.2,475.05h4.8v3.1h-4.8z M779.1,475.05h6.2v3.1h-6.2z M786.4,475.05h3.1v3.1h-3.1z M789.5,475.05h6.5v3.1h-6.5z M686.5,479.20h3.1v3.1h-3.1z M691.0,479.20h24.0v3.1h-24.0z M716.0,479.20h9.0v3.1h-9.0z M726.0,479.20h5.0v3.1h-5.0z M732.0,479.20h11.0v3.1h-11.0z M744.2,479.20h1.0v3.1h-1.0z M746.2,479.20h1.8v3.1h-1.8z M749.0,479.20h9.7v3.1h-9.7z M760.8,479.20h11.4v3.1h-11.4z M773.2,479.20h4.8v3.1h-4.8z M779.1,479.20h6.2v3.1h-6.2z M786.4,479.20h3.1v3.1h-3.1z M789.5,479.20h6.5v3.1h-6.5z M686.5,483.4h3.1v7.3h-3.1z M691.0,483.4h24.0v7.3h-24.0z M716.0,483.4h15.0v7.3h-15.0z M732.0,483.4h11.0v7.3h-11.0z M744.2,483.4h14.5v7.3h-14.5z M760.8,483.4h11.4v7.3h-11.4z M773.2,483.4h22.8v7.3h-22.8z M686.8,494.2h4.0v2.4h-4.0z M692.0,494.2h6.0v2.4h-6.0z M699.2,494.2h8.8v2.4h-8.8z M709.2,494.2h8.8v2.4h-8.8z M719.3,494.2h6.0v2.4h-6.0z M726.0,494.2h8.9v2.4h-8.9z M686.8,498.2h4.0v2.4h-4.0z M692.0,498.2h6.0v2.4h-6.0z M699.2,498.2h8.8v2.4h-8.8z M709.2,498.2h8.8v2.4h-8.8z M719.3,498.2h6.0v2.4h-6.0z M726.0,498.2h8.9v2.4h-8.9z M686.8,511h4.0v2.8h-4.0z M692.0,511h6.0v2.8h-6.0z M699.2,511h8.8v2.8h-8.8z M709.2,511h8.8v2.8h-8.8z M719.3,511h6.0v2.8h-6.0z M726.0,511h8.9v2.8h-8.9z M686.8,515h4.0v2.9h-4.0z M692.0,515h6.0v2.9h-6.0z M699.2,515h8.8v2.9h-8.8z M709.2,515h8.8v2.9h-8.8z M719.3,515h6.0v2.9h-6.0z M726.0,515h8.9v2.9h-8.9z M686.8,519.9h4.0v2.8h-4.0z M692.0,519.9h6.0v2.8h-6.0z M699.2,519.9h8.8v2.8h-8.8z M709.2,519.9h8.8v2.8h-8.8z M719.3,519.9h6.0v2.8h-6.0z M726.0,519.9h8.9v2.8h-8.9z M686.8,524.3h4.0v2.0h-4.0z M692.0,524.3h6.0v2.0h-6.0z M699.2,524.3h8.8v2.0h-8.8z M709.2,524.3h8.8v2.0h-8.8z M719.3,524.3h6.0v2.0h-6.0z M726.0,524.3h8.9v2.0h-8.9z M736,494.3h30v15.7h-30z M736,511.5h15v4.5h-15z M752,511.5h8v4.5h-8z M761,511.5h5v4.5h-5z M736,517.2h30v8.6h-30z M767,494.3h29.2v9h-29.2z M767,505h29.2v10.8h-29.2z M767,517.3h29.2v8.5h-29.2z"/>
<path fill="#fff" d="M687,381h2v1h-2zM687,382h1v1h-1zM692,380h2v1h-2zM700,380h2v1h-2zM692,381h2v1h-2zM695,381h3v1h-3zM699,381h3v1h-3zM693,382h3v1h-3zM697,382h1v1h-1zM699,382h1v1h-1zM720,380h2v1h-2zM720,381h3v1h-3zM720,382h1v1h-1zM722,382h1v1h-1zM789,380h2v1h-2zM792,380h3v1h-3zM789,381h1v1h-1zM791,381h2v1h-2zM794,381h2v1h-2zM789,382h1v1h-1zM793,382h1v1h-1zM688,384h1v1h-1zM688,385h1v1h-1zM688,386h1v1h-1zM692,384h2v1h-2zM696,384h3v1h-3zM701,384h3v1h-3zM693,385h1v1h-1zM695,385h1v1h-1zM697,385h2v1h-2zM700,385h1v1h-1zM702,385h3v1h-3zM693,386h2v1h-2zM697,386h2v1h-2zM701,386h2v1h-2zM704,386h2v1h-2zM719,384h2v1h-2zM722,384h1v1h-1zM720,385h2v1h-2zM789,384h3v1h-3zM793,384h3v1h-3zM789,385h1v1h-1zM791,385h3v1h-3zM795,385h1v1h-1zM789,386h3v1h-3zM794,386h1v1h-1zM688,388h1v1h-1zM687,389h2v1h-2zM687,390h2v1h-2zM693,388h3v1h-3zM697,388h2v1h-2zM693,389h1v1h-1zM695,389h3v1h-3zM692,390h1v1h-1zM694,390h2v1h-2zM698,390h1v1h-1zM719,388h3v1h-3zM720,389h3v1h-3zM719,390h3v1h-3zM790,388h1v1h-1zM792,388h3v1h-3zM790,389h2v1h-2zM793,389h1v1h-1zM795,389h1v1h-1zM789,390h3v1h-3zM794,390h2v1h-2zM687,392h2v1h-2zM687,393h2v1h-2zM687,394h2v1h-2zM692,392h3v1h-3zM697,392h3v1h-3zM701,392h1v1h-1zM695,393h1v1h-1zM697,393h1v1h-1zM700,393h1v1h-1zM692,394h3v1h-3zM696,394h1v1h-1zM698,394h3v1h-3zM721,393h2v1h-2zM719,394h1v1h-1zM760,392h1v1h-1zM759,393h1v1h-1zM687,396h2v1h-2zM688,398h1v1h-1zM692,396h3v1h-3zM696,396h2v1h-2zM699,396h3v1h-3zM703,396h1v1h-1zM692,397h3v1h-3zM696,397h2v1h-2zM702,397h3v1h-3zM692,398h2v1h-2zM696,398h2v1h-2zM699,398h1v1h-1zM702,398h3v1h-3zM720,396h1v1h-1zM720,397h1v1h-1zM722,397h1v1h-1zM719,398h1v1h-1zM759,396h2v1h-2zM759,397h1v1h-1zM759,398h2v1h-2zM687,400h2v1h-2zM692,400h1v1h-1zM694,400h2v1h-2zM698,400h2v1h-2zM692,401h1v1h-1zM694,401h1v1h-1zM696,401h1v1h-1zM698,401h1v1h-1zM700,401h2v1h-2zM694,402h2v1h-2zM698,402h1v1h-1zM700,402h2v1h-2zM721,400h1v1h-1zM719,401h3v1h-3zM719,402h3v1h-3zM687,404h1v1h-1zM687,405h1v1h-1zM688,406h1v1h-1zM692,404h1v1h-1zM695,404h3v1h-3zM699,404h1v1h-1zM702,404h2v1h-2zM692,405h3v1h-3zM697,405h3v1h-3zM701,405h2v1h-2zM704,405h1v1h-1zM693,406h2v1h-2zM696,406h3v1h-3zM700,406h3v1h-3zM722,405h1v1h-1zM721,406h1v1h-1zM789,404h3v1h-3zM794,404h2v1h-2zM789,405h1v1h-1zM791,405h2v1h-2zM790,406h1v1h-1zM792,406h2v1h-2zM795,406h1v1h-1zM692,409h3v1h-3zM697,409h2v1h-2zM695,410h3v1h-3zM694,411h2v1h-2zM698,411h1v1h-1zM720,409h2v1h-2zM719,410h1v1h-1zM721,410h2v1h-2zM719,411h2v1h-2zM759,409h1v1h-1zM759,410h1v1h-1zM760,411h1v1h-1zM687,414h2v1h-2zM688,415h1v1h-1zM693,413h2v1h-2zM696,413h3v1h-3zM692,414h2v1h-2zM692,415h1v1h-1zM696,415h3v1h-3zM719,413h1v1h-1zM721,413h1v1h-1zM719,414h3v1h-3zM719,415h1v1h-1zM759,414h1v1h-1zM760,415h1v1h-1zM789,413h1v1h-1zM792,413h2v1h-2zM795,413h1v1h-1zM790,414h3v1h-3zM794,414h2v1h-2zM791,415h2v1h-2zM794,415h2v1h-2zM687,417h2v1h-2zM687,419h1v1h-1zM692,417h3v1h-3zM697,417h1v1h-1zM700,417h2v1h-2zM693,418h1v1h-1zM697,418h3v1h-3zM702,418h1v1h-1zM694,419h1v1h-1zM697,419h3v1h-3zM701,419h1v1h-1zM720,417h3v1h-3zM719,418h2v1h-2zM722,419h1v1h-1zM759,417h1v1h-1zM760,419h1v1h-1zM687,422h1v1h-1zM687,423h2v1h-2zM692,421h2v1h-2zM695,421h3v1h-3zM699,421h2v1h-2zM692,422h3v1h-3zM697,422h3v1h-3zM701,422h2v1h-2zM704,422h1v1h-1zM692,423h1v1h-1zM694,423h1v1h-1zM696,423h2v1h-2zM699,423h3v1h-3zM704,423h1v1h-1zM722,421h1v1h-1zM720,422h2v1h-2zM719,423h3v1h-3zM687,425h1v1h-1zM687,426h2v1h-2zM687,427h2v1h-2zM692,425h3v1h-3zM696,425h2v1h-2zM699,425h1v1h-1zM702,425h1v1h-1zM694,426h2v1h-2zM700,426h2v1h-2zM704,426h1v1h-1zM692,427h3v1h-3zM697,427h2v1h-2zM701,427h3v1h-3zM719,425h3v1h-3zM720,426h3v1h-3zM719,427h2v1h-2zM722,427h1v1h-1zM791,425h1v1h-1zM793,425h1v1h-1zM795,425h1v1h-1zM789,426h3v1h-3zM793,426h1v1h-1zM789,427h3v1h-3zM687,429h1v1h-1zM687,430h2v1h-2zM687,431h2v1h-2zM692,429h2v1h-2zM695,429h3v1h-3zM699,429h2v1h-2zM693,430h2v1h-2zM696,430h2v1h-2zM692,431h1v1h-1zM694,431h3v1h-3zM698,431h3v1h-3zM719,429h2v1h-2zM722,429h1v1h-1zM719,430h2v1h-2zM719,431h1v1h-1zM789,429h1v1h-1zM791,429h3v1h-3zM790,430h1v1h-1zM792,430h1v1h-1zM794,430h1v1h-1zM790,431h1v1h-1zM792,431h3v1h-3zM692,434h1v1h-1zM696,434h2v1h-2zM699,434h2v1h-2zM692,435h3v1h-3zM698,435h3v1h-3zM692,436h2v1h-2zM695,436h1v1h-1zM698,436h3v1h-3zM719,435h1v1h-1zM722,435h1v1h-1zM719,436h3v1h-3zM760,435h1v1h-1zM759,436h2v1h-2zM789,434h2v1h-2zM792,434h2v1h-2zM795,434h1v1h-1zM789,435h3v1h-3zM793,435h3v1h-3zM789,436h3v1h-3zM794,436h1v1h-1zM688,438h1v1h-1zM687,439h2v1h-2zM692,438h2v1h-2zM695,438h2v1h-2zM699,438h3v1h-3zM703,438h2v1h-2zM692,439h1v1h-1zM696,439h1v1h-1zM698,439h2v1h-2zM701,439h1v1h-1zM703,439h1v1h-1zM694,440h2v1h-2zM698,440h3v1h-3zM702,440h1v1h-1zM704,440h1v1h-1zM719,438h3v1h-3zM719,439h1v1h-1zM721,439h2v1h-2zM719,440h1v1h-1zM721,440h1v1h-1zM687,442h2v1h-2zM695,442h3v1h-3zM701,442h1v1h-1zM704,442h1v1h-1zM692,443h3v1h-3zM697,443h2v1h-2zM700,443h3v1h-3zM693,444h2v1h-2zM697,444h3v1h-3zM703,444h1v1h-1zM721,442h1v1h-1zM722,444h1v1h-1zM789,442h1v1h-1zM791,442h1v1h-1zM793,442h3v1h-3zM790,443h2v1h-2zM793,443h3v1h-3zM791,444h3v1h-3zM687,446h2v1h-2zM687,448h2v1h-2zM693,446h3v1h-3zM698,446h3v1h-3zM693,447h2v1h-2zM697,447h1v1h-1zM699,447h1v1h-1zM701,447h1v1h-1zM703,447h1v1h-1zM693,448h3v1h-3zM698,448h3v1h-3zM720,446h1v1h-1zM722,446h1v1h-1zM719,448h3v1h-3zM791,446h2v1h-2zM794,446h2v1h-2zM789,447h1v1h-1zM791,447h3v1h-3zM789,448h3v1h-3zM793,448h2v1h-2zM687,450h2v1h-2zM687,451h1v1h-1zM687,452h1v1h-1zM692,450h2v1h-2zM697,450h1v1h-1zM700,450h1v1h-1zM692,451h3v1h-3zM696,451h3v1h-3zM701,451h1v1h-1zM693,452h1v1h-1zM696,452h1v1h-1zM701,452h1v1h-1zM720,450h3v1h-3zM721,451h2v1h-2zM721,452h2v1h-2zM791,450h2v1h-2zM794,450h1v1h-1zM789,451h2v1h-2zM793,451h2v1h-2zM790,452h1v1h-1zM792,452h2v1h-2zM687,454h2v1h-2zM688,456h1v1h-1zM692,454h1v1h-1zM694,454h3v1h-3zM698,454h1v1h-1zM692,455h3v1h-3zM696,455h1v1h-1zM698,455h1v1h-1zM692,456h3v1h-3zM696,456h3v1h-3zM719,454h2v1h-2zM719,455h1v1h-1zM721,455h1v1h-1zM720,456h2v1h-2zM687,458h1v1h-1zM687,459h1v1h-1zM687,460h2v1h-2zM695,458h3v1h-3zM699,458h2v1h-2zM697,459h2v1h-2zM700,459h1v1h-1zM693,460h1v1h-1zM696,460h1v1h-1zM698,460h2v1h-2zM719,458h1v1h-1zM720,459h3v1h-3zM719,460h3v1h-3zM789,458h1v1h-1zM795,458h1v1h-1zM789,459h1v1h-1zM792,459h3v1h-3zM789,460h2v1h-2zM795,460h1v1h-1zM687,463h2v1h-2zM687,465h1v1h-1zM693,463h2v1h-2zM697,463h2v1h-2zM692,464h3v1h-3zM696,464h1v1h-1zM699,464h1v1h-1zM693,465h1v1h-1zM696,465h3v1h-3zM719,463h2v1h-2zM722,463h1v1h-1zM720,464h2v1h-2zM719,465h2v1h-2zM722,465h1v1h-1zM790,463h3v1h-3zM795,463h1v1h-1zM790,464h3v1h-3zM789,465h3v1h-3zM795,465h1v1h-1zM688,467h1v1h-1zM694,467h1v1h-1zM697,467h2v1h-2zM700,467h1v1h-1zM702,467h1v1h-1zM692,468h1v1h-1zM694,468h1v1h-1zM698,468h1v1h-1zM700,468h3v1h-3zM692,469h1v1h-1zM699,469h3v1h-3zM721,467h2v1h-2zM719,468h2v1h-2zM719,469h3v1h-3zM759,468h2v1h-2zM759,469h1v1h-1zM789,467h3v1h-3zM793,467h3v1h-3zM789,468h3v1h-3zM793,468h1v1h-1zM789,469h1v1h-1zM792,469h1v1h-1zM687,471h2v1h-2zM687,472h2v1h-2zM692,471h2v1h-2zM695,471h3v1h-3zM699,471h3v1h-3zM704,471h2v1h-2zM692,472h1v1h-1zM696,472h3v1h-3zM700,472h3v1h-3zM704,472h2v1h-2zM693,473h2v1h-2zM696,473h1v1h-1zM699,473h1v1h-1zM701,473h1v1h-1zM704,473h2v1h-2zM721,471h2v1h-2zM719,472h2v1h-2zM722,472h1v1h-1zM720,473h2v1h-2zM759,471h2v1h-2zM759,472h2v1h-2zM687,475h2v1h-2zM687,476h1v1h-1zM687,477h1v1h-1zM692,475h2v1h-2zM696,475h3v1h-3zM692,476h3v1h-3zM696,476h1v1h-1zM701,476h1v1h-1zM693,477h2v1h-2zM697,477h3v1h-3zM701,477h3v1h-3zM720,475h3v1h-3zM720,476h1v1h-1zM722,476h1v1h-1zM719,477h2v1h-2zM790,475h3v1h-3zM790,476h3v1h-3zM794,476h2v1h-2zM789,477h2v1h-2zM793,477h2v1h-2zM688,479h1v1h-1zM687,480h2v1h-2zM687,481h2v1h-2zM692,479h3v1h-3zM696,479h1v1h-1zM699,479h3v1h-3zM704,479h1v1h-1zM693,480h2v1h-2zM696,480h3v1h-3zM701,480h3v1h-3zM692,481h1v1h-1zM696,481h3v1h-3zM700,481h3v1h-3zM719,479h1v1h-1zM721,479h1v1h-1zM721,480h2v1h-2zM722,481h1v1h-1zM687,485h2v1h-2zM687,486h2v1h-2zM693,485h2v1h-2zM701,485h2v1h-2zM704,485h1v1h-1zM693,486h1v1h-1zM699,486h1v1h-1zM702,486h1v1h-1zM695,487h2v1h-2zM698,487h1v1h-1zM702,487h1v1h-1zM705,487h2v1h-2zM695,488h1v1h-1zM702,488h3v1h-3zM695,489h3v1h-3zM703,489h2v1h-2zM728,485h3v1h-3zM726,486h1v1h-1zM726,487h3v1h-3zM727,488h3v1h-3zM728,489h3v1h-3zM747,485h1v1h-1zM749,485h1v1h-1zM752,485h2v1h-2zM755,485h1v1h-1zM748,486h3v1h-3zM753,486h3v1h-3zM747,487h1v1h-1zM744,488h3v1h-3zM748,488h3v1h-3zM755,488h1v1h-1zM746,489h3v1h-3zM750,489h2v1h-2zM774,485h1v1h-1zM776,485h3v1h-3zM780,485h2v1h-2zM783,485h3v1h-3zM781,486h3v1h-3zM774,487h2v1h-2zM780,487h1v1h-1zM782,487h2v1h-2zM776,488h1v1h-1zM779,488h1v1h-1zM784,488h1v1h-1zM774,489h1v1h-1zM777,489h1v1h-1zM780,489h1v1h-1zM784,489h2v1h-2z"/>
<path fill="#000" d="M687,501h2v1h-2zM693,501h2v1h-2zM697,501h3v1h-3zM703,501h1v1h-1zM705,501h2v1h-2zM713,501h3v1h-3zM717,501h1v1h-1zM722,501h2v1h-2zM725,501h1v1h-1zM728,501h3v1h-3zM734,501h1v1h-1zM688,502h1v1h-1zM691,502h3v1h-3zM699,502h1v1h-1zM703,502h3v1h-3zM708,502h3v1h-3zM715,502h1v1h-1zM717,502h3v1h-3zM721,502h2v1h-2zM728,502h3v1h-3zM732,502h1v1h-1zM691,503h2v1h-2zM694,503h3v1h-3zM698,503h3v1h-3zM706,503h1v1h-1zM713,503h2v1h-2zM716,503h1v1h-1zM722,503h1v1h-1zM726,503h2v1h-2zM691,504h3v1h-3zM695,504h2v1h-2zM698,504h3v1h-3zM703,504h1v1h-1zM707,504h1v1h-1zM709,504h2v1h-2zM715,504h3v1h-3zM721,504h1v1h-1zM727,504h1v1h-1zM729,504h1v1h-1zM731,504h1v1h-1zM734,504h1v1h-1zM687,505h1v1h-1zM690,505h2v1h-2zM698,505h2v1h-2zM708,505h2v1h-2zM711,505h1v1h-1zM714,505h1v1h-1zM716,505h2v1h-2zM722,505h3v1h-3zM727,505h2v1h-2zM732,505h3v1h-3zM687,506h2v1h-2zM691,506h1v1h-1zM696,506h3v1h-3zM702,506h1v1h-1zM704,506h3v1h-3zM713,506h3v1h-3zM717,506h3v1h-3zM722,506h1v1h-1zM728,506h3v1h-3zM732,506h1v1h-1zM687,507h3v1h-3zM691,507h2v1h-2zM694,507h3v1h-3zM698,507h1v1h-1zM701,507h1v1h-1zM703,507h2v1h-2zM707,507h1v1h-1zM709,507h2v1h-2zM721,507h1v1h-1zM723,507h3v1h-3zM727,507h3v1h-3zM734,507h1v1h-1zM687,508h3v1h-3zM692,508h3v1h-3zM697,508h3v1h-3zM704,508h1v1h-1zM710,508h3v1h-3zM715,508h3v1h-3zM720,508h1v1h-1zM722,508h3v1h-3zM730,508h3v1h-3zM694,509h3v1h-3zM698,509h2v1h-2zM706,509h2v1h-2zM709,509h1v1h-1zM713,509h2v1h-2zM718,509h2v1h-2zM722,509h1v1h-1zM728,509h3v1h-3zM733,509h1v1h-1zM688,512h1v1h-1zM687,513h1v1h-1zM689,514h2v1h-2zM689,515h2v1h-2zM687,516h3v1h-3zM687,517h3v1h-3zM687,518h3v1h-3zM687,519h3v1h-3zM688,520h2v1h-2zM688,521h1v1h-1zM689,522h2v1h-2zM690,523h1v1h-1zM687,525h2v1h-2z"/>
<path fill="#fff" d="M745,506h1v1h-1zM749,506h5v1h-5zM755,506h1v1h-1zM757,506h3v1h-3zM737,507h1v1h-1zM739,507h1v1h-1zM743,507h5v1h-5zM750,507h1v1h-1zM752,507h1v1h-1zM755,507h4v1h-4zM737,508h3v1h-3zM743,508h1v1h-1zM745,508h2v1h-2zM750,508h4v1h-4zM755,508h4v1h-4zM737,509h5v1h-5zM743,509h4v1h-4zM750,509h1v1h-1zM752,509h2v1h-2zM755,509h4v1h-4zM739,510h3v1h-3zM745,510h2v1h-2zM752,510h1v1h-1zM755,510h3v1h-3zM755,506h1v1h-1zM763,506h1v1h-1zM753,507h4v1h-4zM759,507h5v1h-5zM755,508h1v1h-1zM761,508h3v1h-3zM755,509h1v1h-1zM760,509h2v1h-2zM763,509h1v1h-1zM754,510h4v1h-4zM761,510h1v1h-1zM745,518h1v1h-1zM748,518h1v1h-1zM750,518h5v1h-5zM756,518h1v1h-1zM738,519h4v1h-4zM745,519h1v1h-1zM748,519h1v1h-1zM750,519h4v1h-4zM756,519h1v1h-1zM759,519h1v1h-1zM738,520h4v1h-4zM744,520h5v1h-5zM750,520h1v1h-1zM752,520h2v1h-2zM756,520h5v1h-5zM738,521h1v1h-1zM741,521h1v1h-1zM744,521h3v1h-3zM748,521h1v1h-1zM750,521h1v1h-1zM752,521h1v1h-1zM756,521h1v1h-1zM758,521h3v1h-3zM738,522h5v1h-5zM744,522h1v1h-1zM746,522h1v1h-1zM748,522h1v1h-1zM750,522h4v1h-4zM756,522h5v1h-5zM738,523h1v1h-1zM744,523h1v1h-1zM746,523h1v1h-1zM774,506h1v1h-1zM777,506h1v1h-1zM779,506h5v1h-5zM785,506h1v1h-1zM788,506h2v1h-2zM773,507h5v1h-5zM779,507h1v1h-1zM781,507h3v1h-3zM785,507h5v1h-5zM774,508h4v1h-4zM779,508h5v1h-5zM785,508h5v1h-5zM774,509h1v1h-1zM776,509h2v1h-2zM779,509h4v1h-4zM785,509h1v1h-1zM787,509h3v1h-3zM774,510h1v1h-1zM776,510h2v1h-2zM779,510h1v1h-1zM785,510h5v1h-5zM774,511h4v1h-4zM779,511h3v1h-3zM785,511h5v1h-5zM775,519h3v1h-3zM779,519h3v1h-3zM784,519h2v1h-2zM779,520h2v1h-2zM782,520h3v1h-3zM775,521h2v1h-2zM779,521h3v1h-3zM783,521h3v1h-3zM775,522h1v1h-1zM777,522h1v1h-1zM779,522h2v1h-2zM782,522h3v1h-3zM786,522h1v1h-1z"/>
</g>

</svg>
</body></html>
